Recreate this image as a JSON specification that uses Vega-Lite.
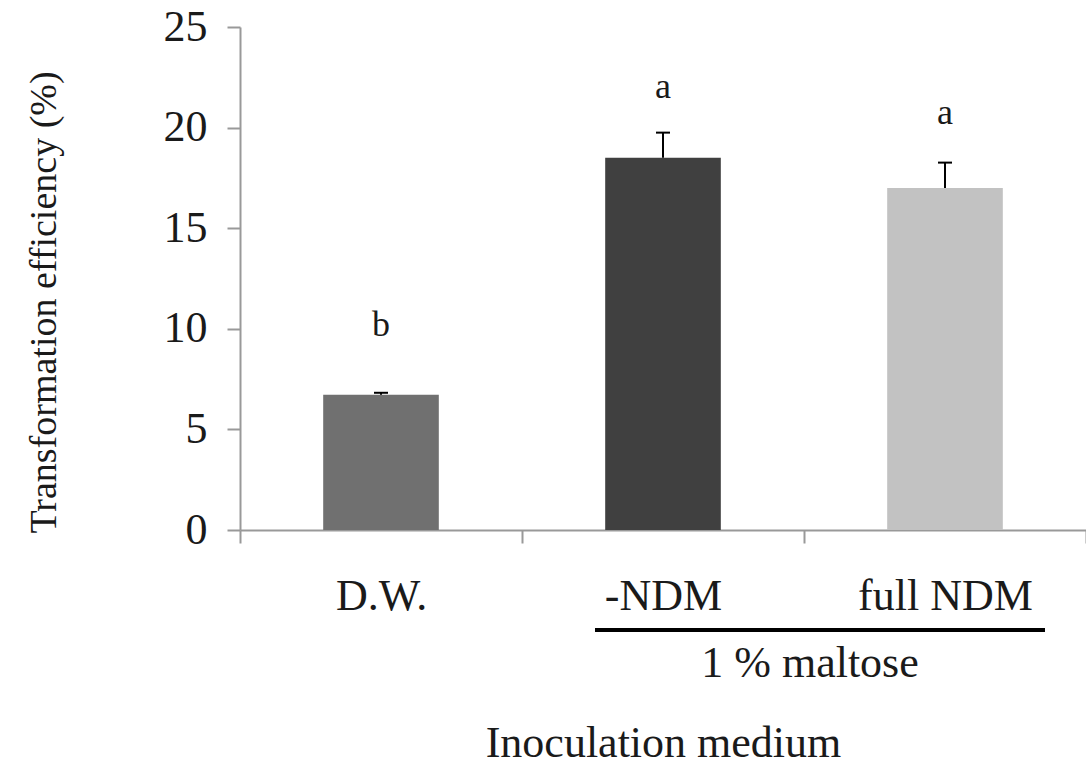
{
  "$schema": "https://vega.github.io/schema/vega-lite/v6.json",
  "autosize": {"type": "none"},
  "padding": {"left": 240, "top": 27, "right": 0, "bottom": 235},
  "width": 846,
  "height": 503,
  "background": "white",
  "config": {
    "view": {"stroke": null},
    "font": "Liberation Serif",
    "text": {"font": "Liberation Serif"}
  },
  "datasets": {
    "bars": [
      {"medium": "D.W.", "efficiency": 6.72, "upper": 6.82, "letter": "b", "letter_pos": 10.19},
      {"medium": "-NDM", "efficiency": 18.5, "upper": 19.75, "letter": "a", "letter_pos": 22.02},
      {"medium": "full NDM", "efficiency": 17.0, "upper": 18.26, "letter": "a", "letter_pos": 20.73}
    ],
    "group": [
      {"from": "-NDM", "to": "full NDM", "label": "1 % maltose"}
    ]
  },
  "layer": [
    {
      "data": {"name": "bars"},
      "mark": {"type": "bar", "width": {"band": 0.41}},
      "encoding": {
        "x": {
          "field": "medium", "type": "nominal",
          "sort": null,
          "scale": {"domain": ["D.W.", "-NDM", "full NDM"], "paddingInner": 0, "paddingOuter": 0},
          "axis": {
            "title": "Inoculation medium",
            "titleFont": "Liberation Serif", "titleFontSize": 44, "titleFontWeight": "normal", "titleColor": "#1a1a1a",
            "titlePadding": 103,
            "labelFont": "Liberation Serif", "labelFontSize": 44, "labelColor": "#1a1a1a", "labelAngle": 0,
            "labelPadding": 31,
            "tickBand": "extent", "tickSize": 13, "tickColor": "#999999", "tickWidth": 2,
            "domainColor": "#999999", "domainWidth": 2, "grid": false
          }
        },
        "y": {
          "field": "efficiency", "type": "quantitative",
          "scale": {"domain": [0, 25], "nice": false},
          "axis": {
            "title": "Transformation efficiency (%)",
            "titleFont": "Liberation Serif", "titleFontSize": 38, "titleFontWeight": "normal", "titleColor": "#1a1a1a",
            "titlePadding": 100,
            "titleY": 275,
            "values": [0, 5, 10, 15, 20, 25],
            "labelFont": "Liberation Serif", "labelFontSize": 44, "labelColor": "#1a1a1a",
            "labelPadding": 20,
            "tickSize": 13, "tickColor": "#999999", "tickWidth": 2,
            "domainColor": "#999999", "domainWidth": 2, "grid": false
          }
        },
        "color": {
          "field": "medium", "type": "nominal",
          "scale": {"domain": ["D.W.", "-NDM", "full NDM"], "range": ["#707070", "#404040", "#c2c2c2"]},
          "legend": null
        }
      }
    },
    {
      "data": {"name": "bars"},
      "mark": {"type": "rule", "color": "black", "strokeWidth": 2},
      "encoding": {
        "x": {"field": "medium", "type": "nominal", "sort": null},
        "y": {"field": "efficiency", "type": "quantitative"},
        "y2": {"field": "upper"}
      }
    },
    {
      "data": {"name": "bars"},
      "mark": {"type": "rule", "color": "black", "strokeWidth": 2, "xOffset": -7, "x2Offset": 7},
      "encoding": {
        "x": {"field": "medium", "type": "nominal", "sort": null},
        "x2": {"field": "medium"},
        "y": {"field": "upper", "type": "quantitative"}
      }
    },
    {
      "data": {"name": "bars"},
      "mark": {"type": "text", "fontSize": 36, "color": "#1a1a1a", "baseline": "middle", "align": "center"},
      "encoding": {
        "x": {"field": "medium", "type": "nominal", "sort": null},
        "y": {"field": "letter_pos", "type": "quantitative"},
        "text": {"field": "letter"}
      }
    },
    {
      "data": {"name": "group"},
      "mark": {"type": "rule", "color": "black", "strokeWidth": 4, "xOffset": -68, "x2Offset": 100, "yOffset": 100, "clip": false},
      "encoding": {
        "x": {"field": "from", "type": "nominal", "sort": null},
        "x2": {"field": "to"},
        "y": {"datum": 0, "type": "quantitative"}
      }
    },
    {
      "data": {"name": "group"},
      "mark": {"type": "text", "fontSize": 44, "color": "#1a1a1a", "baseline": "middle", "align": "center", "xOffset": 147, "yOffset": 134},
      "encoding": {
        "x": {"field": "from", "type": "nominal", "sort": null},
        "y": {"datum": 0, "type": "quantitative"},
        "text": {"field": "label"}
      }
    }
  ]
}
